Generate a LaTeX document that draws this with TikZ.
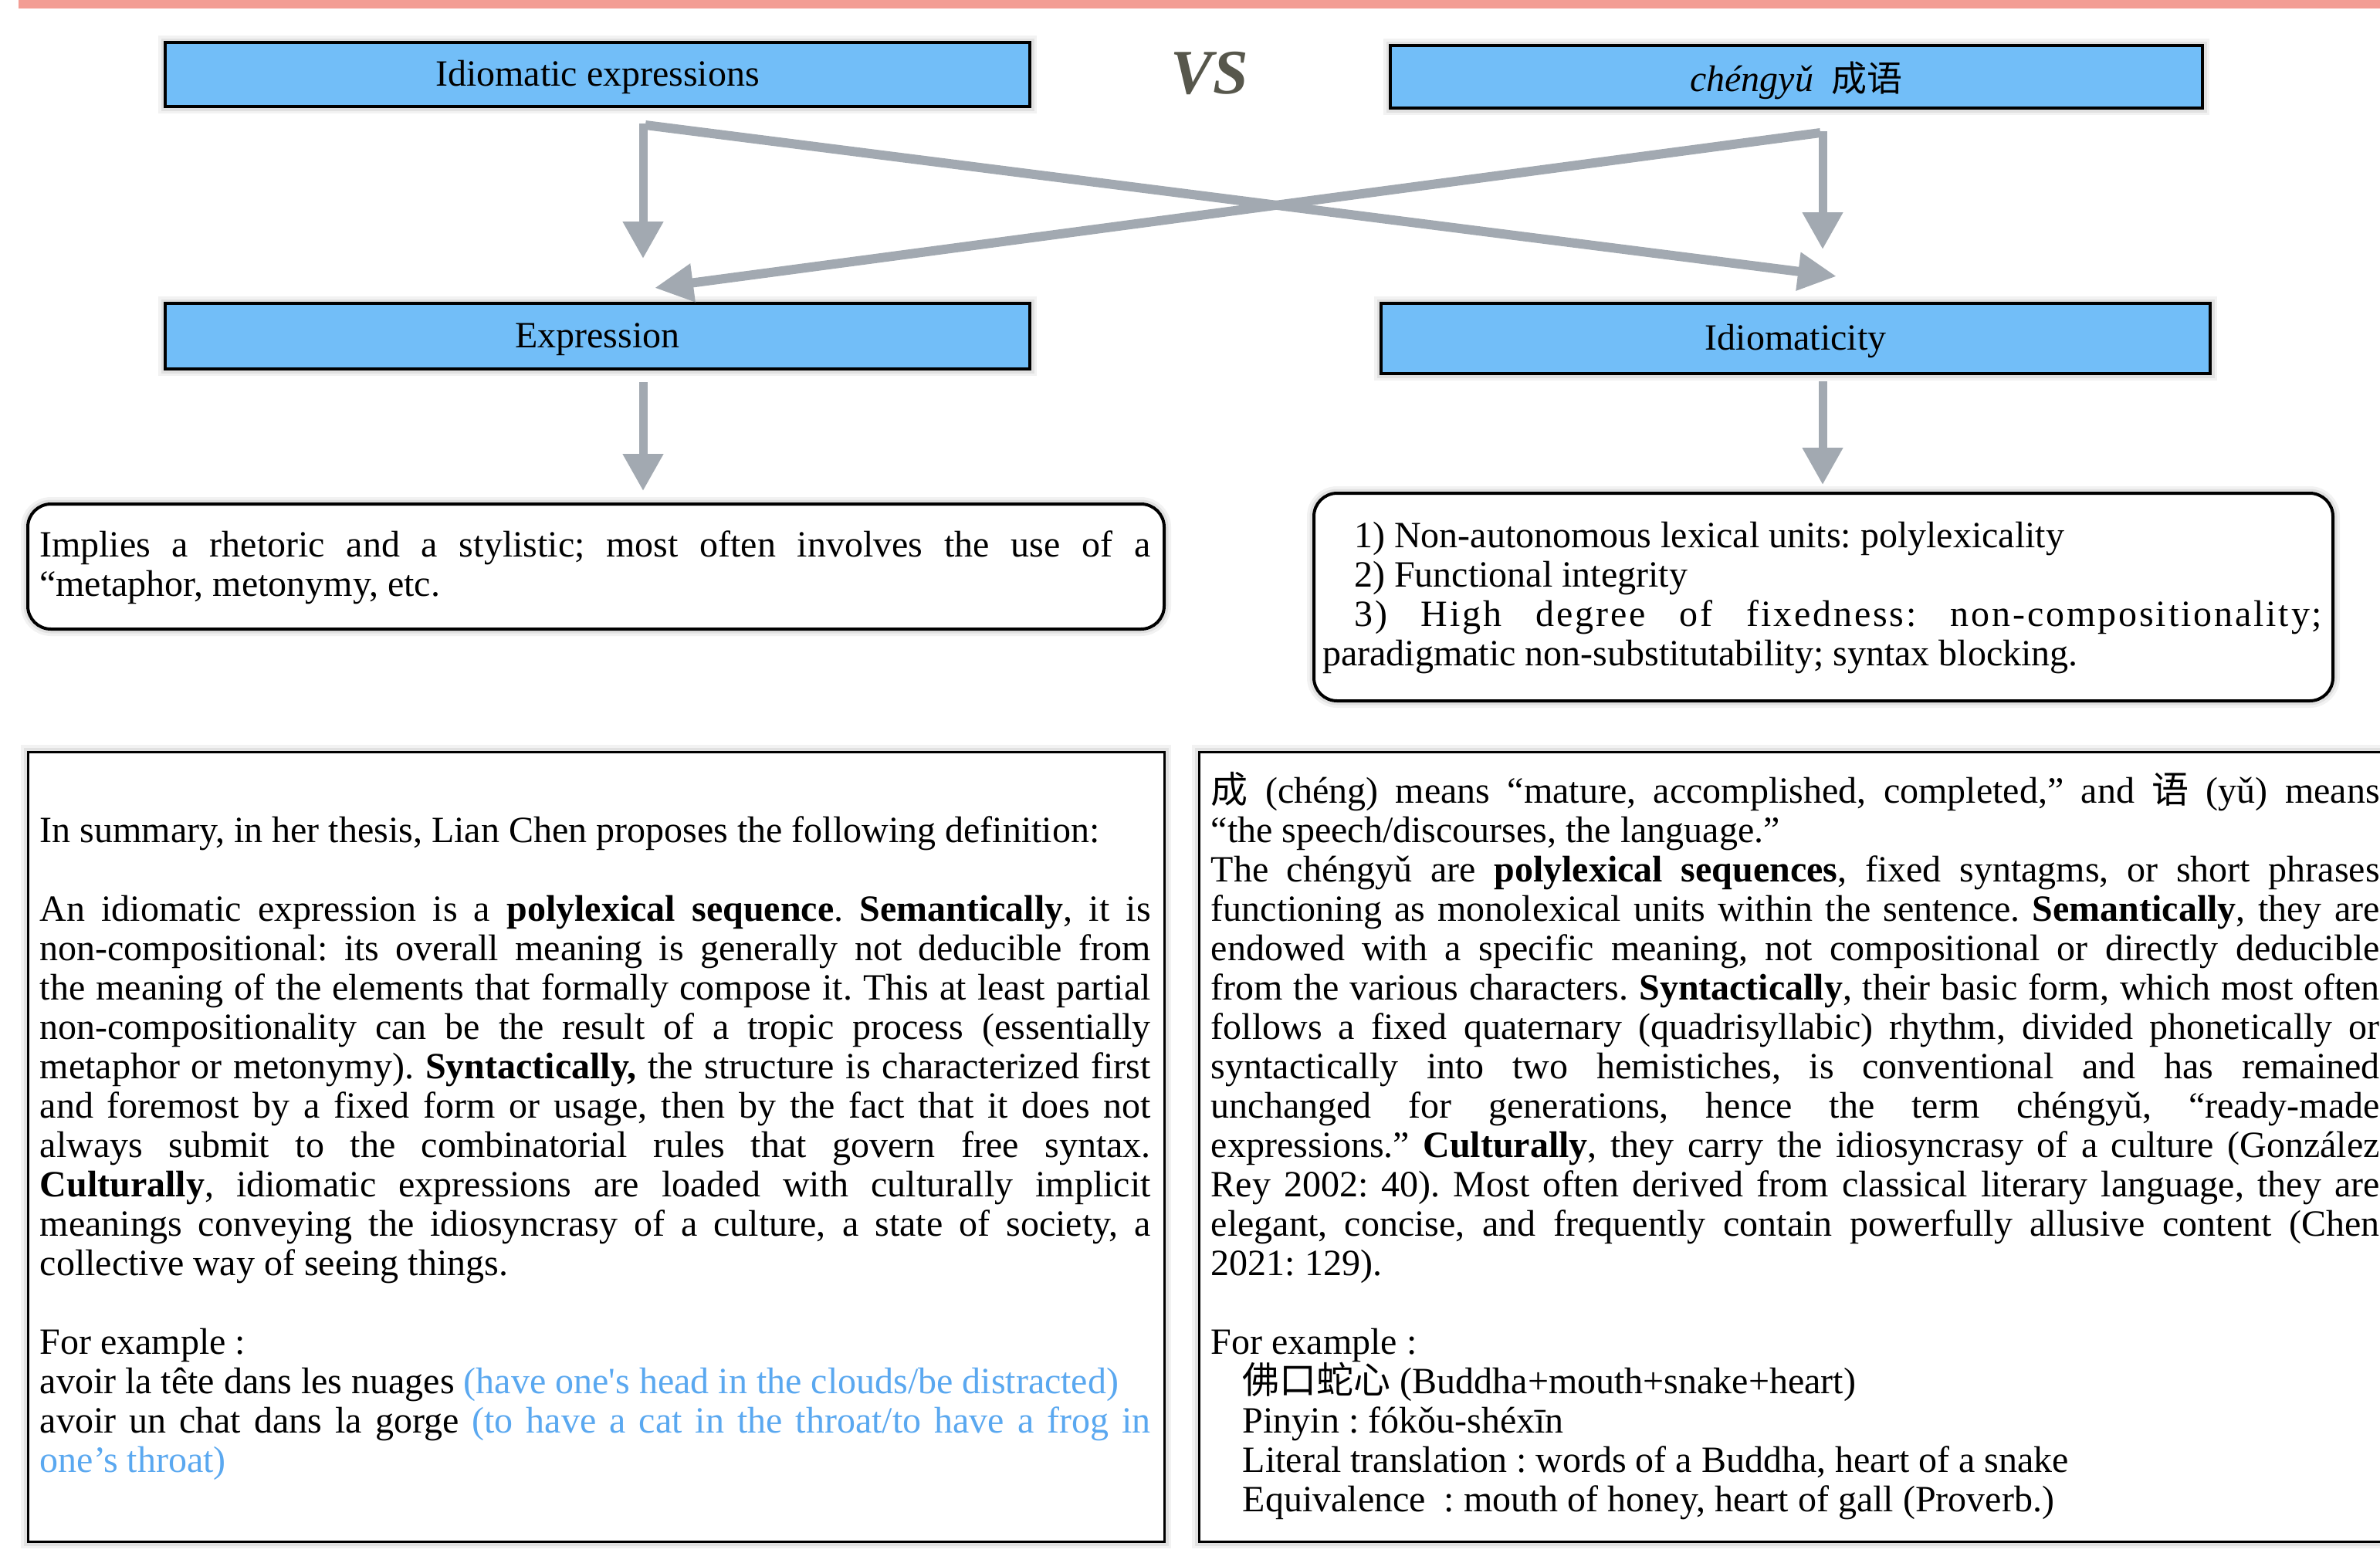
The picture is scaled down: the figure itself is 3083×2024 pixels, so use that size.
\documentclass[tikz,border=0pt]{standalone}
\usepackage{fontspec}
\setmainfont{Liberation Serif}[Ligatures=TeXOff]
\newfontfamily\cjk{Noto Sans CJK SC}
\usetikzlibrary{arrows.meta,calc}
\definecolor{boxblue}{RGB}{114,190,248}
\definecolor{arrgrey}{RGB}{162,169,177}
\definecolor{pinkbar}{RGB}{243,157,148}
\definecolor{vsgrey}{RGB}{87,87,76}
\definecolor{exblue}{RGB}{90,168,240}
\newcommand\bodyfnt{\fontsize{48}{51}\selectfont\frenchspacing\lineskiplimit=-100pt\relax}
\tikzset{
  glow/.style={preaction={draw=black,opacity=0.05,line width=18pt},
               preaction={draw=black,opacity=0.07,line width=11pt}},
  bluebox/.style={glow, draw=black, line width=4pt, fill=boxblue, inner sep=0pt,
                  font=\bodyfnt, text height=40pt, text depth=10pt},
  roundbox/.style={glow, draw=black, line width=4pt, fill=white, rounded corners=30pt, inner sep=0pt},
  textbox/.style={glow, draw=black, line width=3pt, fill=white, inner sep=0pt},
  para/.style={inner sep=0pt, anchor=base west, align=justify, font=\bodyfnt},
  varr/.style={draw=arrgrey, line width=11pt, -{Triangle[width=50pt,length=48pt]}},
  darr/.style={draw=arrgrey, line width=12pt, -{Triangle[width=47pt,length=50pt]}},
}
\begin{document}
\frenchspacing
\begin{tikzpicture}[x=1pt,y=-1pt]
\useasboundingbox (0,0) rectangle (3083,2024);
\fill[pinkbar] (24,0) rectangle (3083,11);

% top boxes
\node[bluebox, minimum width=1120pt, minimum height=83pt] (ie) at (774,96.5) {Idiomatic expressions};
\node[bluebox, minimum width=1052pt, minimum height=81pt, text height=45pt, text depth=8pt] (cy) at (2327,99.5) {\textit{chéngyǔ}\ \ {\cjk\fontsize{46}{51}\selectfont 成语}};
\node[bluebox, minimum width=1120pt, minimum height=85pt] (expr) at (774,435.5) {Expression};
\node[bluebox, minimum width=1074pt, minimum height=91pt] (idm) at (2326,438.5) {Idiomaticity};
\node[text=vsgrey, font=\fontsize{82}{82}\selectfont\bfseries\itshape, inner sep=0pt] (vs) at (1567,95) {VS};

% rounded boxes
\node[roundbox, minimum width=1472pt, minimum height=162pt] (lbox) at (772,734) {};
\node[roundbox, minimum width=1320pt, minimum height=269pt] (rbox) at (2362,773.5) {};
\node[para, text width=1439pt] (lboxtext) at ($(lbox.north west)+(17,70)$)
 {Implies a rhetoric and a stylistic; most often involves the use of a\linebreak
  “metaphor, metonymy, etc.};
\node[para, text width=1295pt] (rboxtext) at ($(rbox.north west)+(13,72)$)
 {\hspace*{41pt}1) Non-autonomous lexical units: polylexicality\par
  \hspace*{41pt}2) Functional integrity\par
  \hspace*{41pt}{\addfontfeature{LetterSpace=6}3) High degree of fixedness: non-compositionality;}\linebreak
  paradigmatic non-substitutability; syntax blocking.};

% arrows
\draw[varr] ($(ie.south)+(59,20)$) -- ($(expr.north)+(59,-56)$);
\draw[darr] ($(ie.south)+(62,22)$) -- ($(idm.north)+(53,-33)$);
\draw[varr] ($(cy.south)+(34,28)$) -- ($(idm.north)+(35,-68)$);
\draw[darr] ($(cy.south)+(31,30)$) -- ($(expr.north)+(74,-18)$);
\draw[varr] ($(expr.south)+(59,15)$) -- ($(lbox.north)+(61,-15)$);
\draw[varr] ($(idm.south)+(35,8)$) -- ($(rbox.north)+(-1,-9)$);

% bottom boxes
\node[textbox, minimum width=1472pt, minimum height=1023pt] (bl) at (772,1485.5) {};
\node[textbox, minimum width=1547pt, minimum height=1023pt] (br) at (2326.5,1485.5) {};

\node[para, text width=1439pt] (bltext) at ($(bl.north west)+(17,119)$)
 {In summary, in her thesis, Lian Chen proposes the following definition:\par\vskip51pt
  An idiomatic expression is a \textbf{polylexical sequence}. \textbf{Semantically}, it is\linebreak
  non-compositional: its overall meaning is generally not deducible from\linebreak
  the meaning of the elements that formally compose it. This at least partial\linebreak
  non-compositionality can be the result of a tropic process (essentially\linebreak
  metaphor or metonymy). \textbf{Syntactically,} the structure is characterized first\linebreak
  and foremost by a fixed form or usage, then by the fact that it does not\linebreak
  always submit to the combinatorial rules that govern free syntax.\linebreak
  \textbf{Culturally}, idiomatic expressions are loaded with culturally implicit\linebreak
  meanings conveying the idiosyncrasy of a culture, a state of society, a\linebreak
  collective way of seeing things.\par\vskip51pt
  For example :\par
  avoir la tête dans les nuages {\color{exblue}(have one's head in the clouds/be distracted)}\par
  avoir un chat dans la gorge {\color{exblue}(to have a cat in the throat/to have a frog in\linebreak
  one’s throat)}};

\node[para, text width=1514pt] (brtext) at ($(br.north west)+(17,68)$)
 {{\cjk 成} (chéng) means “mature, accomplished, completed,” and {\cjk 语} (yǔ) means\linebreak
  “the speech/discourses, the language.”\par
  The chéngyǔ are \textbf{polylexical sequences}, fixed syntagms, or short phrases\linebreak
  functioning as monolexical units within the sentence. \textbf{Semantically}, they are\linebreak
  endowed with a specific meaning, not compositional or directly deducible\linebreak
  from the various characters. \textbf{Syntactically}, their basic form, which most often\linebreak
  follows a fixed quaternary (quadrisyllabic) rhythm, divided phonetically or\linebreak
  syntactically into two hemistiches, is conventional and has remained\linebreak
  unchanged for generations, hence the term chéngyǔ, “ready-made\linebreak
  expressions.” \textbf{Culturally}, they carry the idiosyncrasy of a culture (González\linebreak
  Rey 2002: 40). Most often derived from classical literary language, they are\linebreak
  elegant, concise, and frequently contain powerfully allusive content (Chen\linebreak
  2021: 129).\par\vskip51pt
  For example :\par
  \hspace*{41pt}{\cjk 佛口蛇心} (Buddha+mouth+snake+heart)\par
  \hspace*{41pt}Pinyin : fókǒu-shéxīn\par
  \hspace*{41pt}Literal translation : words of a Buddha, heart of a snake\par
  \hspace*{41pt}Equivalence\ \ : mouth of honey, heart of gall (Proverb.)};
\end{tikzpicture}
\end{document}
